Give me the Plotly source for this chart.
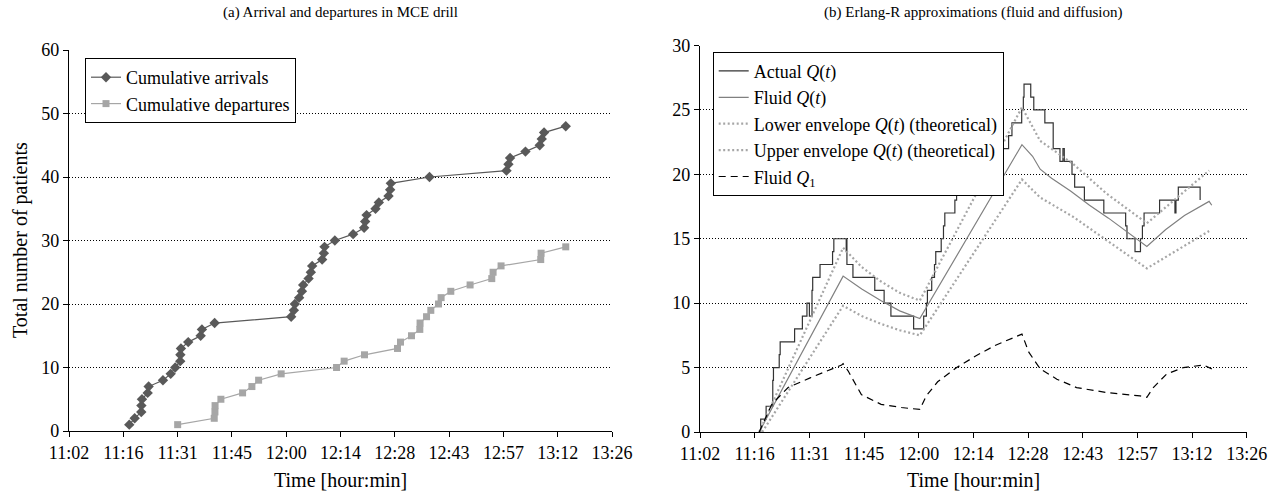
import plotly.graph_objects as go

DAY = "2000-01-01 "

# ---- (a) cumulative arrivals / departures ----
arrival_times = [
    "11:18:23", "11:19:49", "11:21:34", "11:21:36", "11:21:45", "11:23:16", "11:23:31", "11:27:19",
    "11:29:22", "11:30:34", "11:31:54", "11:31:56", "11:32:05", "11:34:01", "11:37:19", "11:37:39",
    "11:41:01", "12:01:19", "12:02:02", "12:02:18", "12:03:26", "12:04:10", "12:04:30", "12:05:56",
    "12:06:32", "12:06:53", "12:09:32", "12:09:59", "12:10:10", "12:12:54", "12:17:45", "12:20:40",
    "12:20:56", "12:21:19", "12:23:41", "12:24:34", "12:27:08", "12:27:34", "12:27:45", "12:38:00",
    "12:58:25", "12:58:56", "12:59:22", "13:03:27", "13:07:14", "13:07:46", "13:08:23", "13:14:08",
]
arrival_counts = [
    1, 2, 3, 4, 5, 6, 7, 8, 9, 10, 11, 12, 13, 14, 15, 16,
    17, 18, 19, 20, 21, 22, 23, 24, 25, 26, 27, 28, 29, 30, 31, 32,
    33, 34, 35, 36, 37, 38, 39, 40, 41, 42, 43, 44, 45, 46, 47, 48,
]
departure_times = [
    "11:31:13", "11:40:55", "11:41:06", "11:41:08", "11:42:41", "11:48:26", "11:50:54", "11:52:41",
    "11:58:40", "12:13:21", "12:15:22", "12:20:46", "12:29:31", "12:30:19", "12:33:14", "12:35:26",
    "12:35:30", "12:37:13", "12:38:21", "12:40:23", "12:41:05", "12:43:39", "12:48:46", "12:54:31",
    "12:54:52", "12:56:59", "13:07:30", "13:07:36", "13:14:08",
]
departure_counts = [
    1, 2, 3, 4, 5, 6, 7, 8, 9, 10, 11, 12, 13, 14, 15, 16,
    17, 18, 19, 20, 21, 22, 23, 24, 25, 26, 27, 28, 29,
]

# ---- (b) Erlang-R approximations ----
actual_q_times = [
    "11:18:00", "11:18:23", "11:19:49", "11:21:34", "11:21:45", "11:23:16", "11:23:31", "11:27:19",
    "11:29:22", "11:30:34", "11:31:13", "11:31:54", "11:32:05", "11:34:01", "11:37:19", "11:37:39",
    "11:40:55", "11:41:01", "11:41:06", "11:42:41", "11:48:26", "11:50:54", "11:52:41", "11:58:40",
    "12:01:19", "12:02:02", "12:02:18", "12:03:26", "12:04:10", "12:04:30", "12:05:56", "12:06:32",
    "12:06:53", "12:09:32", "12:09:59", "12:10:10", "12:12:54", "12:13:21", "12:15:22", "12:17:45",
    "12:20:40", "12:20:46", "12:20:56", "12:21:19", "12:23:41", "12:24:34", "12:27:08", "12:27:34",
    "12:27:45", "12:29:31", "12:30:19", "12:33:14", "12:35:26", "12:37:13", "12:38:00", "12:38:21",
    "12:40:23", "12:41:05", "12:43:39", "12:48:46", "12:54:31", "12:54:52", "12:56:59", "12:58:25",
    "12:58:56", "12:59:22", "13:03:27", "13:07:30", "13:07:46", "13:08:23", "13:14:08",
]
actual_q_values = [
    0, 1, 2, 4, 5, 6, 7, 8,
    9, 10, 9, 11, 12, 13, 14, 15,
    14, 15, 13, 12, 11, 10, 9, 8,
    9, 10, 11, 12, 13, 14, 15, 16,
    17, 18, 19, 20, 21, 20, 19, 20,
    21, 20, 21, 22, 23, 24, 25, 26,
    27, 26, 25, 24, 22, 21, 22, 21,
    20, 19, 18, 17, 16, 15, 14, 15,
    16, 17, 18, 17, 18, 19, 18,
]

fluid_times = [
    "11:18:00", "11:40:06", "11:45:00", "11:50:00", "11:55:00", "12:00:18", "12:27:12", "12:30:00",
    "12:32:00", "12:35:00", "12:40:00", "12:45:00", "12:50:00", "12:55:00", "13:00:06", "13:05:00",
    "13:10:00", "13:16:30", "13:17:12",
]
fluid_values = [
    0, 12.1, 11.1, 10.2, 9.4, 8.8, 22.3, 21.4,
    20.4, 19.7, 18.7, 17.6, 16.6, 15.5, 14.4, 15.7,
    16.8, 17.9, 17.6,
]

upper_times = [
    "11:18:00", "11:40:06", "11:45:00", "11:50:00", "11:55:00", "12:00:18", "12:27:12", "12:30:00",
    "12:32:00", "12:40:42", "12:49:30", "13:00:06", "13:16:30",
]
upper_values = [0, 14.3, 12.8, 11.7, 10.8, 10.2, 25.2, 23.7, 22.6, 20.8, 18.5, 16.2, 20.3]

lower_times = [
    "11:18:48", "11:40:06", "11:45:00", "11:50:00", "11:55:00", "12:00:18", "12:27:12", "12:30:00",
    "12:32:00", "12:40:42", "12:49:30", "13:00:06", "13:16:30",
]
lower_values = [0, 9.8, 9.0, 8.4, 7.9, 7.5, 19.6, 18.8, 18.2, 16.7, 14.9, 12.7, 15.6]

fluid_q1_times = [
    "11:18:00", "11:21:18", "11:25:36", "11:31:24", "11:39:42", "11:40:06", "11:41:24", "11:44:54",
    "11:50:06", "11:55:24", "12:00:18", "12:02:00", "12:05:00", "12:10:00", "12:15:00", "12:20:00",
    "12:27:12", "12:29:00", "12:32:00", "12:36:24", "12:41:36", "12:49:30", "12:58:18", "13:00:06",
    "13:01:48", "13:05:18", "13:09:42", "13:15:00", "13:17:12",
]
fluid_q1_values = [
    0, 2.15, 3.45, 4.2, 5.2, 5.3, 4.75, 2.9,
    2.15, 1.9, 1.75, 2.8, 3.9, 5.0, 5.9, 6.7,
    7.6, 6.2, 4.9, 4.1, 3.45, 3.06, 2.8, 2.7,
    3.45, 4.5, 5.0, 5.2, 4.9,
]

# axis ticks every 0.01 day
tick_times = ["11:02:24", "11:16:48", "11:31:12", "11:45:36", "12:00:00", "12:14:24",
              "12:28:48", "12:43:12", "12:57:36", "13:12:00", "13:26:24"]
tick_labels = ["11:02", "11:16", "11:31", "11:45", "12:00", "12:14",
               "12:28", "12:43", "12:57", "13:12", "13:26"]


def ts(times):
    return [DAY + t for t in times]


FONT = "Liberation Serif, Times New Roman, serif"
W, H = 1279, 497

# plot-area pixel boxes (left, right, top, bottom)
A_BOX = (69, 612, 50, 431)
B_BOX = (700, 1246.7, 45.5, 432)

fig = go.Figure()

fig.add_trace(go.Scatter(
    x=ts(arrival_times), y=arrival_counts, name="Cumulative arrivals",
    mode="lines+markers", line=dict(color="#595959", width=1.2),
    marker=dict(symbol="diamond", size=8, color="#595959"),
    xaxis="x", yaxis="y", legend="legend",
))
fig.add_trace(go.Scatter(
    x=ts(departure_times), y=departure_counts, name="Cumulative departures",
    mode="lines+markers", line=dict(color="#A6A6A6", width=1.2),
    marker=dict(symbol="square", size=7, color="#A6A6A6"),
    xaxis="x", yaxis="y", legend="legend",
))

fig.add_trace(go.Scatter(
    x=ts(actual_q_times), y=actual_q_values, name="Actual <i>Q</i>(<i>t</i>)",
    mode="lines", line=dict(color="#333333", width=1.2, shape="hv"),
    xaxis="x2", yaxis="y2", legend="legend2",
))
fig.add_trace(go.Scatter(
    x=ts(fluid_times), y=fluid_values, name="Fluid <i>Q</i>(<i>t</i>)",
    mode="lines", line=dict(color="#808080", width=1.2),
    xaxis="x2", yaxis="y2", legend="legend2",
))
fig.add_trace(go.Scatter(
    x=ts(lower_times), y=lower_values, name="Lower envelope <i>Q</i>(<i>t</i>) (theoretical)",
    mode="lines", line=dict(color="#A6A6A6", width=2.2, dash="2px,2.5px"),
    xaxis="x2", yaxis="y2", legend="legend2",
))
fig.add_trace(go.Scatter(
    x=ts(upper_times), y=upper_values, name="Upper envelope <i>Q</i>(<i>t</i>) (theoretical)",
    mode="lines", line=dict(color="#A6A6A6", width=2.2, dash="2px,2.5px"),
    xaxis="x2", yaxis="y2", legend="legend2",
))
fig.add_trace(go.Scatter(
    x=ts(fluid_q1_times), y=fluid_q1_values, name="Fluid <i>Q</i><sub>1</sub>",
    mode="lines", line=dict(color="#000000", width=1.2, dash="7px,5px"),
    xaxis="x2", yaxis="y2", legend="legend2",
))

xcommon = dict(
    type="date", range=[DAY + tick_times[0], DAY + tick_times[-1]],
    tickmode="array", tickvals=ts(tick_times), ticktext=tick_labels,
    ticks="outside", ticklen=5, tickcolor="black", tickwidth=1,
    showline=True, linecolor="black", linewidth=1.3, showgrid=False, zeroline=False,
    tickfont=dict(family=FONT, size=18, color="black"), automargin=False,
)
ycommon = dict(
    ticks="outside", ticklen=5, tickcolor="black", tickwidth=1,
    showline=True, linecolor="black", linewidth=1.3,
    showgrid=True, gridcolor="black", gridwidth=1, griddash="1px,2px", zeroline=False,
    tickfont=dict(family=FONT, size=18, color="black"), automargin=False,
)

legend_common = dict(
    bgcolor="white", bordercolor="black", borderwidth=1,
    font=dict(family=FONT, size=18, color="black"),
    xanchor="left", yanchor="top", tracegroupgap=0, itemwidth=30,
)


def xdom(box):
    return [box[0] / W, box[1] / W]


def ydom(box):
    return [1 - box[3] / H, 1 - box[2] / H]


def label(text, x_px, y_px, size, angle=0):
    return dict(text=text, x=x_px / W, y=1 - y_px / H, xref="paper", yref="paper",
                showarrow=False, xanchor="center", yanchor="middle", textangle=angle,
                font=dict(family=FONT, size=size, color="black"))


fig.update_layout(
    width=W, height=H, margin=dict(l=0, r=0, t=0, b=0, autoexpand=False),
    paper_bgcolor="white", plot_bgcolor="white",
    font=dict(family=FONT, size=18, color="black"),
    xaxis=dict(domain=xdom(A_BOX), anchor="y", **xcommon),
    yaxis=dict(domain=ydom(A_BOX), anchor="x", range=[0, 60], dtick=10, **ycommon),
    xaxis2=dict(domain=xdom(B_BOX), anchor="y2", **xcommon),
    yaxis2=dict(domain=ydom(B_BOX), anchor="x2", range=[0, 30], dtick=5, **ycommon),
    legend=dict(x=85 / W, y=1 - 58 / H, **legend_common),
    legend2=dict(x=712.7 / W, y=1 - 51.7 / H, **legend_common),
    showlegend=True,
    annotations=[
        label("(a) Arrival and departures in MCE drill", (A_BOX[0] + A_BOX[1]) / 2, 12, 15),
        label("(b) Erlang-R approximations (fluid and diffusion)", (B_BOX[0] + B_BOX[1]) / 2, 12, 15),
        label("Time [hour:min]", (A_BOX[0] + A_BOX[1]) / 2, 480, 20),
        label("Time [hour:min]", (B_BOX[0] + B_BOX[1]) / 2, 480, 20),
        label("Total number of patients", 20, 240, 20, angle=-90),
    ],
)

fig.write_html("out.html")
